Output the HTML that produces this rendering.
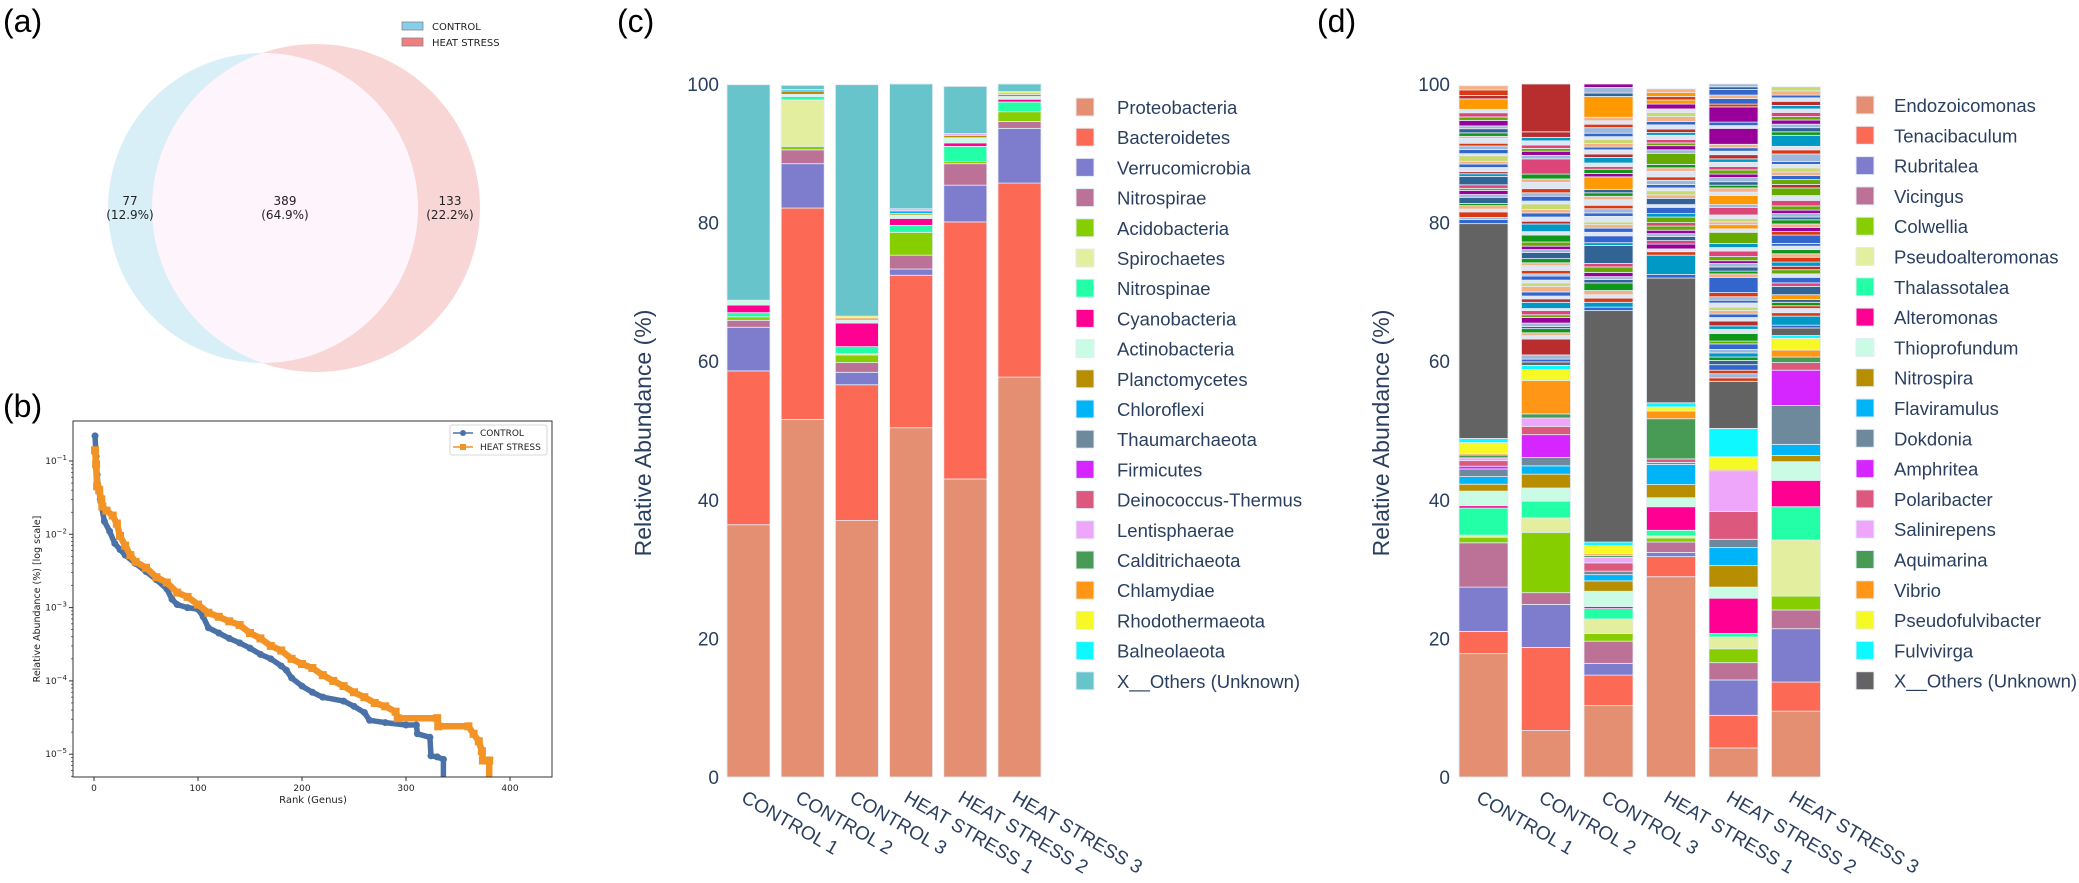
<!DOCTYPE html>
<html><head><meta charset="utf-8"><title>Microbiome figure</title>
<style>
html,body{margin:0;padding:0;background:#fff;}
svg{display:block;font-family:"Liberation Sans","DejaVu Sans",sans-serif;}
.pl{fill:#2a3f5f;}
</style></head>
<body>
<svg id="fig" width="2079" height="883" viewBox="0 0 2079 883" xmlns="http://www.w3.org/2000/svg">
<rect x="0" y="0" width="2079" height="883" fill="#fff"/>
<text x="3" y="32" font-size="32" fill="#000">(a)</text>
<text x="3" y="417" font-size="32" fill="#000">(b)</text>
<text x="617" y="32" font-size="32" fill="#000">(c)</text>
<text x="1317" y="32" font-size="32" fill="#000">(d)</text>

<g id="venn">
  <circle cx="263" cy="208" r="155" fill="#d9eff7"/>
  <circle cx="316" cy="208" r="164" fill="#f9d6d6"/>
  <clipPath id="cpc"><circle cx="263" cy="208" r="155"/></clipPath>
  <circle cx="316" cy="208" r="164" fill="#fdf5fb" clip-path="url(#cpc)"/>
  <g font-family="'DejaVu Sans',sans-serif" font-size="12" fill="#222" text-anchor="middle">
    <text x="130" y="205">77</text>
    <text x="130" y="219">(12.9%)</text>
    <text x="285" y="205">389</text>
    <text x="285" y="219">(64.9%)</text>
    <text x="450" y="205">133</text>
    <text x="450" y="219">(22.2%)</text>
  </g>
  <g font-family="'DejaVu Sans',sans-serif" font-size="10" fill="#222">
    <rect x="402" y="22" width="21" height="8" fill="#87ceeb" stroke="#888" stroke-width="0.8"/>
    <text x="432" y="30">CONTROL</text>
    <rect x="402" y="38" width="21" height="8" fill="#f08080" stroke="#888" stroke-width="0.8"/>
    <text x="432" y="46">HEAT STRESS</text>
  </g>
</g>

<g id="rank">
  <defs><clipPath id="cpb"><rect x="73" y="421" width="479" height="356"/></clipPath></defs>
  <g id="rankMarks" clip-path="url(#cpb)"></g>
  <rect x="73" y="421" width="479" height="356" fill="none" stroke="#333" stroke-width="1"/>
  <g id="rankAxes" font-family="'DejaVu Sans',sans-serif" font-size="9" fill="#222"></g>
  <text x="313" y="803" text-anchor="middle" font-family="'DejaVu Sans',sans-serif" font-size="10" fill="#222">Rank (Genus)</text>
  <text transform="translate(40,599) rotate(-90)" text-anchor="middle" font-family="'DejaVu Sans',sans-serif" font-size="9.5" fill="#222">Relative Abundance (%) [log scale]</text>
  <g font-family="'DejaVu Sans',sans-serif" font-size="9" fill="#222">
    <rect x="450" y="425" width="97" height="30" fill="#fff" stroke="#ccc" stroke-width="0.8" rx="2"/>
    <line x1="453" y1="433" x2="473" y2="433" stroke="#4a72a8" stroke-width="1.5"/>
    <circle cx="463" cy="433" r="3" fill="#4a72a8"/>
    <text x="480" y="436">CONTROL</text>
    <line x1="453" y1="447" x2="473" y2="447" stroke="#f39325" stroke-width="1.5"/>
    <rect x="460" y="444" width="6" height="6" fill="#f39325"/>
    <text x="480" y="450">HEAT STRESS</text>
  </g>
</g>

<g id="phylum">
  <g id="phylumBars"></g>
  <g id="phylumAxes" class="pl" font-size="19"></g>
  <text class="pl" transform="translate(651,433) rotate(-90)" text-anchor="middle" font-size="23">Relative Abundance (%)</text>
  <g id="phylumLegend" class="pl" font-size="18.5"></g>
</g>

<g id="genus">
  <g id="genusBars"></g>
  <g id="genusAxes" class="pl" font-size="19"></g>
  <text class="pl" transform="translate(1389,433) rotate(-90)" text-anchor="middle" font-size="23">Relative Abundance (%)</text>
  <g id="genusLegend" class="pl" font-size="18.5"></g>
</g>
</svg>

<script>
const ctrlRank = [1,2,3,4,6,10,15,20,25,30,40,50,60,70,75,80,90,100,105,110,120,130,140,150,160,170,180,185,190,200,210,220,240,250,260,265,280,300,310,311,323,324,330,336];
const ctrlVal = [0.22,0.115,0.065,0.045,0.03,0.015,0.011,0.0075,0.0062,0.0052,0.004,0.0031,0.0024,0.0018,0.0013,0.0011,0.001,0.00095,0.00075,0.00053,0.00045,0.00038,0.00033,0.00028,0.00023,0.0002,0.00016,0.00014,0.00011,0.000085,0.00007,0.00006,0.000053,0.000045,0.000037,0.000029,0.000027,0.000025,0.000025,0.000019,0.000017,0.0000095,0.0000092,0.0000085];
const heatRank = [1,2,3,5,7,8,12,18,22,25,30,35,40,50,60,70,80,90,100,110,120,130,140,150,160,170,180,190,200,210,220,230,240,250,260,270,280,290,292,330,331,360,365,370,373,374,380];
const heatVal = [0.14,0.09,0.045,0.04,0.03,0.024,0.021,0.018,0.014,0.0095,0.007,0.0052,0.0042,0.0035,0.0026,0.0022,0.0016,0.0014,0.0011,0.00085,0.00075,0.00065,0.00058,0.00045,0.00038,0.0003,0.00026,0.0002,0.00017,0.00015,0.00012,0.0001,0.000085,0.00007,0.00006,0.00005,0.000045,0.000038,0.000031,0.000031,0.000024,0.000024,0.000019,0.000015,0.000011,0.0000082,0.0000082];
const rankXTicks = [0,100,200,300,400];
const rankYTickExp = [-1,-2,-3,-4,-5];

const samples = ["CONTROL 1","CONTROL 2","CONTROL 3","HEAT STRESS 1","HEAT STRESS 2","HEAT STRESS 3"];
const phyla = ["Proteobacteria","Bacteroidetes","Verrucomicrobia","Nitrospirae","Acidobacteria","Spirochaetes","Nitrospinae","Cyanobacteria","Actinobacteria","Planctomycetes","Chloroflexi","Thaumarchaeota","Firmicutes","Deinococcus-Thermus","Lentisphaerae","Calditrichaeota","Chlamydiae","Rhodothermaeota","Balneolaeota","X__Others (Unknown)"];
const pProteobacteria = [36.4,51.6,37.0,50.4,43.0,57.7];
const pBacteroidetes = [22.2,30.5,19.6,22.0,37.1,28.0];
const pVerrucomicrobia = [6.3,6.4,1.8,0.9,5.3,7.9];
const pNitrospirae = [1.0,2.0,1.4,2.0,3.1,1.0];
const pAcidobacteria = [0.5,0.5,1.1,3.3,0.3,1.4];
const pSpirochaetes = [0,6.7,0.2,0,0,0];
const pNitrospinae = [0.6,0.5,1.0,1.0,2.2,1.4];
const pCyanobacteria = [1.1,0,3.4,1.0,0.5,0.4];
const pActinobacteria = [0.7,0.3,0.4,0.5,0.75,0.4];
const pPlanctomycetes = [0,0.5,0.2,0.2,0.35,0.3];
const pChloroflexi = [0,0.2,0,0.4,0,0];
const pThaumarchaeota = [0,0,0,0,0,0];
const pFirmicutes = [0,0,0,0,0,0];
const pDeinococcus = [0,0,0,0,0,0];
const pLentisphaerae = [0,0,0,0.3,0.25,0];
const pCalditrichaeota = [0,0,0,0,0,0];
const pChlamydiae = [0,0,0.2,0,0,0.2];
const pRhodothermaeota = [0,0,0.2,0,0,0.2];
const pBalneolaeota = [0,0,0,0,0,0];
const pOthers = [31.1,0.6,33.4,18.0,6.8,1.1];
const yTicks = [0,20,40,60,80,100];

const genera = ["Endozoicomonas","Tenacibaculum","Rubritalea","Vicingus","Colwellia","Pseudoalteromonas","Thalassotalea","Alteromonas","Thioprofundum","Nitrospira","Flaviramulus","Dokdonia","Amphritea","Polaribacter","Salinirepens","Aquimarina","Vibrio","Pseudofulvibacter","Fulvivirga","X__Others (Unknown)"];
const gEndozoicomonas = [17.8,6.7,10.3,28.9,4.2,9.5];
const gTenacibaculum = [3.2,12.0,4.4,2.9,4.7,4.2];
const gRubritalea = [6.4,6.2,1.7,0.6,5.1,7.7];
const gVicingus = [6.4,1.7,3.2,1.5,2.5,2.7];
const gColwellia = [0.8,8.7,1.1,0.6,2.0,2.0];
const gPseudoalteromonas = [0.3,2.1,2.1,0.3,1.7,8.1];
const gThalassotalea = [3.9,2.4,1.5,0.8,0.5,4.8];
const gAlteromonas = [0.35,0,0.3,3.4,5.1,3.8];
const gThioprofundum = [2.1,1.9,2.2,1.3,1.6,2.7];
const gNitrospira = [1.0,2.0,1.5,1.9,3.1,0.9];
const gFlaviramulus = [1.1,1.2,0.9,2.9,2.6,1.6];
const gDokdonia = [1.1,1.2,0.5,0.3,1.2,5.6];
const gAmphritea = [0.4,3.3,0,0,0,5.1];
const gPolaribacter = [0.8,1.2,1.2,0.5,4.0,1.1];
const gSalinirepens = [0.4,1.2,0.8,0,5.9,0];
const gAquimarina = [0.4,0.6,0.25,5.8,0,0.8];
const gVibrio = [0.2,4.8,0.25,1.1,0.2,1.0];
const gPseudofulvibacter = [1.6,1.6,1.2,0.6,1.8,1.7];
const gFulvivirga = [0.6,0.6,0.5,0.6,4.1,0.4];
const gOthers = [31.0,0.5,33.4,18.0,6.8,1.1];
const minor1 = [0.6,0.3,0.8,0.4,0.5,0.3,0.9,0.4,0.6,0.3,0.5,1.2,0.4,0.3,0.6,0.5,0.4,0.8,0.3,0.6,0.5,0.4,0.7,0.3,0.5,0.6,0.4,0.8,0.5,0.6,0.5,1.5,0.5,0.8,0.6];
const minor2 = [0.4,0.6,2.3,0.5,0.4,0.6,0.3,0.5,0.8,0.4,0.6,0.3,0.9,0.5,0.4,0.6,0.8,0.5,0.4,0.6,0.3,0.5,0.7,0.4,0.6,0.9,0.4,0.5,0.6,1.0,0.5,1.1,0.4,0.6,0.6,0.5,0.8,0.4,0.7,0.5,0.6,0.9,0.5,0.7,2.2,0.5,0.6,0.4,0.5,0.6,0.5,0.8,6.9];
const minor3 = [0.5,0.7,0.6,0.5,0.6,1.1,0.5,0.4,0.6,0.8,0.5,2.6,0.4,1.0,0.5,0.6,0.5,0.4,0.8,0.5,0.6,0.5,0.8,0.5,0.5,0.5,1.8,0.5,0.6,0.4,0.5,0.8,0.5,0.6,0.4,0.5,0.6,0.4,0.5,0.8,0.5,0.5,0.5,3.0,0.5,0.8,0.5];
const minor4 = [0.5,2.8,0.5,0.4,0.7,0.5,0.6,0.4,0.5,0.6,0.5,0.8,0.5,0.9,0.4,0.9,0.5,0.6,0.4,0.5,0.6,0.5,0.8,0.5,0.5,1.6,0.5,0.6,0.4,0.5,0.6,0.4,0.5,0.6,0.5,0.7,0.6,0.5,0.7,0.6,0.5,0.6,0.5];
const minor5 = [0.5,0.6,0.5,0.8,0.6,0.5,0.6,0.5,0.8,0.4,1.1,0.6,0.5,0.7,0.5,0.5,0.5,0.5,0.6,0.4,0.5,0.6,2.2,0.5,0.4,0.6,0.5,0.4,0.6,0.8,0.5,0.6,1.6,0.5,0.6,0.4,0.5,0.5,1.1,0.4,1.3,0.5,0.6,0.4,0.5,0.6,0.5,0.6,0.5,0.6,0.5,0.6,0.5,0.5,0.5,2.3,0.4,0.5,2.2,0.4,0.8,0.5,0.8,0.4,0.5];
const minor6 = [0.4,1.3,0.5,0.6,0.4,0.5,0.4,0.7,1.2,0.5,0.8,0.5,0.6,0.5,0.6,0.7,0.5,0.6,0.5,0.4,1.2,0.5,0.6,0.5,0.6,0.4,0.5,0.5,0.6,0.8,0.7,1.1,0.5,0.7,0.6,0.5,0.6,0.5,0.4,1.1,0.6,0.5,1.6,0.5,0.6,0.5,0.6,0.5,0.6,0.5,0.5,0.6,0.5,0.4,0.6,0.6];

const taxColors = ["#E48F72","#FC6955","#7E7DCD","#BC7196","#86CE00","#E3EE9E","#22FFA7","#FF0092","#C9FBE5","#B68E00","#00B5F7","#6E899C","#D626FF","#DC587D","#EEA6FB","#479B55","#FF9616","#F6F926","#0DF9FF"];
const phylumOthersColor = "#67C4CB";
const genusOthersColor = "#636363";
const stripePal = {b:"#3366CC",r:"#DC3912",o:"#FF9900",g:"#109618",p:"#990099",t:"#0099C6",k:"#DD4477",l:"#66AA00",d:"#B82E2E",n:"#316395",s:"#F4B183",c:"#9DB8DA",w:"#DDE6F2",y:"#C8D96F"};
const stripeCycle = "bcrwsgncplkwtdwbsyw";
const stripeOverrides = [
  {11:"n",31:"o",33:"r",34:"s"},
  {2:"d",29:"g",31:"t",44:"k",52:"d"},
  {1:"t",5:"g",11:"n",13:"b",26:"o",28:"g",43:"o"},
  {1:"t",4:"p",5:"k",11:"l",13:"b",15:"n",25:"l",38:"p",39:"o",41:"o"},
  {0:"r",3:"b",4:"n",6:"t",8:"b",10:"g",22:"b",32:"l",34:"o",38:"k",40:"o",55:"p",58:"p",60:"b",62:"b"},
  {1:"t",4:"r",5:"g",7:"o",8:"n",9:"k",10:"b",12:"l",14:"t",15:"r",17:"g",20:"b",22:"p",31:"l",33:"l",42:"t"}
];

const NS = "http://www.w3.org/2000/svg";
function mk(tag, attrs, parent){
  const e = document.createElementNS(NS, tag);
  for (const k in attrs) e.setAttribute(k, attrs[k]);
  parent.appendChild(e);
  return e;
}
function slug(s){ return s.toLowerCase().replace(/[^a-z0-9]+/g,"-").replace(/^-|-$/g,""); }

(function(){
  const x0 = 94, xPer = 1.04;
  const yTop = 461, dec = 73.3;
  const xs = r => x0 + r * xPer;
  const ys = v => yTop + (-1 - Math.log10(v)) * dec;
  const marks = document.getElementById("rankMarks");
  const axes = document.getElementById("rankAxes");
  function series(ranks, vals, color, sq, name){
    let d = "";
    ranks.forEach((r,i)=>{ d += (i?"L":"M") + xs(r).toFixed(1) + "," + ys(vals[i]).toFixed(1); });
    d += "L" + xs(ranks[ranks.length-1]).toFixed(1) + ",790";
    const thick = mk("path", {d:d, fill:"none", stroke:color, "stroke-width": sq?6.5:5.5, "stroke-linejoin":"round"}, marks);
    
    
    const ln = mk("path", {d:d, fill:"none", stroke:color, "stroke-width":1.5}, marks);
    
    
    ranks.forEach((r,i)=>{
      let m;
      if (sq) m = mk("rect", {x:xs(r)-4, y:ys(vals[i])-4, width:8, height:8, fill:color}, marks);
      else m = mk("circle", {cx:xs(r), cy:ys(vals[i]), r:3.5, fill:color}, marks);
      
      
    });
  }
  series(ctrlRank, ctrlVal, "#4a72a8", false, "control-series");
  series(heatRank, heatVal, "#f39325", true, "heat-stress-series");
  rankXTicks.forEach(t=>{
    const tl = mk("line", {x1:xs(t), x2:xs(t), y1:777, y2:781, stroke:"#333"}, axes);
    
    
    const tx = mk("text", {x:xs(t), y:791, "text-anchor":"middle"}, axes);
    tx.textContent = String(t);
    
    
  });
  rankYTickExp.forEach(e=>{
    const y = ys(Math.pow(10,e));
    const tl = mk("line", {x1:69, x2:73, y1:y, y2:y, stroke:"#333"}, axes);
    
    
    for (let k=2;k<10;k++){
      const ym = ys(k*Math.pow(10,e-1));
      if (ym < 421 || ym > 777) continue;
      const mt = mk("line", {x1:71, x2:73, y1:ym, y2:ym, stroke:"#333", "stroke-width":0.7}, axes);
      
      
    }
    const tx = mk("text", {x:67, y:y+3, "text-anchor":"end"}, axes);
    
    
    const t1 = mk("tspan", {}, tx); t1.textContent = "10";
    const t2 = mk("tspan", {dy:-4, "font-size":7}, tx); t2.textContent = "\u2212" + Math.abs(e);
  });
})();

const yBase = 777, perPct = 6.93;
const yScale = v => yBase - v * perPct;
function stackChart(opts){
  const bars = document.getElementById(opts.barsId);
  const axes = document.getElementById(opts.axesId);
  const leg = document.getElementById(opts.legendId);
  samples.forEach((s, si)=>{
    const bx = opts.barX0 + si * opts.pitch;
    let cum = 0;
    opts.series.forEach((arr, ti)=>{
      const v = arr[si];
      if (v <= 0) return;
      const r = mk("rect", {x:bx, y:yScale(cum+v), width:opts.barW, height:v*perPct, fill:opts.colors[ti], stroke:"#E5ECF6", "stroke-width":0.8}, bars);
      
      
      cum += v;
    });
    if (opts.minor){
      const mv = opts.minor[si], ov = stripeOverrides[si];
      mv.forEach((v, k)=>{
        const key = ov[k] || stripeCycle[k % stripeCycle.length];
        const top = Math.min(cum+v, 100);
        if (top <= cum) return;
        const r = mk("rect", {x:bx, y:yScale(top), width:opts.barW, height:(top-cum)*perPct, fill:stripePal[key], stroke:"#E5ECF6", "stroke-width":0.8}, bars);
        
        
        cum = top;
      });
    }
    const lbl = mk("text", {transform:"translate(" + (bx + opts.barW/2 - 2) + ",790) rotate(30)", "dominant-baseline":"hanging"}, axes);
    lbl.textContent = s;
    
    
  });
  yTicks.forEach(t=>{
    const tx = mk("text", {x:opts.yLabelX, y:yScale(t)+7, "text-anchor":"end"}, axes);
    tx.textContent = String(t);
    
    
  });
  opts.names.forEach((n, i)=>{
    const cy = opts.legY0 + i * opts.legPitch;
    const sw = mk("rect", {x:opts.legX, y:cy-9, width:18, height:18, fill:opts.colors[i], stroke:"#E5ECF6", "stroke-width":1}, leg);
    
    
    const tx = mk("text", {x:opts.legTextX, y:cy+7}, leg);
    tx.textContent = n;
    
    
  });
}

stackChart({
  barsId:"phylumBars", axesId:"phylumAxes", legendId:"phylumLegend",
  barX0:727, pitch:54.2, barW:43, yLabelX:719,
  names:phyla, colors:taxColors.concat([phylumOthersColor]),
  series:[pProteobacteria,pBacteroidetes,pVerrucomicrobia,pNitrospirae,pAcidobacteria,pSpirochaetes,pNitrospinae,pCyanobacteria,pActinobacteria,pPlanctomycetes,pChloroflexi,pThaumarchaeota,pFirmicutes,pDeinococcus,pLentisphaerae,pCalditrichaeota,pChlamydiae,pRhodothermaeota,pBalneolaeota,pOthers],
  legX:1076, legTextX:1117, legY0:107, legPitch:30.2
});

stackChart({
  barsId:"genusBars", axesId:"genusAxes", legendId:"genusLegend",
  barX0:1459, pitch:62.5, barW:49, yLabelX:1450,
  names:genera, colors:taxColors.concat([genusOthersColor]),
  series:[gEndozoicomonas,gTenacibaculum,gRubritalea,gVicingus,gColwellia,gPseudoalteromonas,gThalassotalea,gAlteromonas,gThioprofundum,gNitrospira,gFlaviramulus,gDokdonia,gAmphritea,gPolaribacter,gSalinirepens,gAquimarina,gVibrio,gPseudofulvibacter,gFulvivirga,gOthers],
  minor:[minor1,minor2,minor3,minor4,minor5,minor6],
  legX:1856, legTextX:1894, legY0:105, legPitch:30.3
});
</script>
</body></html>
